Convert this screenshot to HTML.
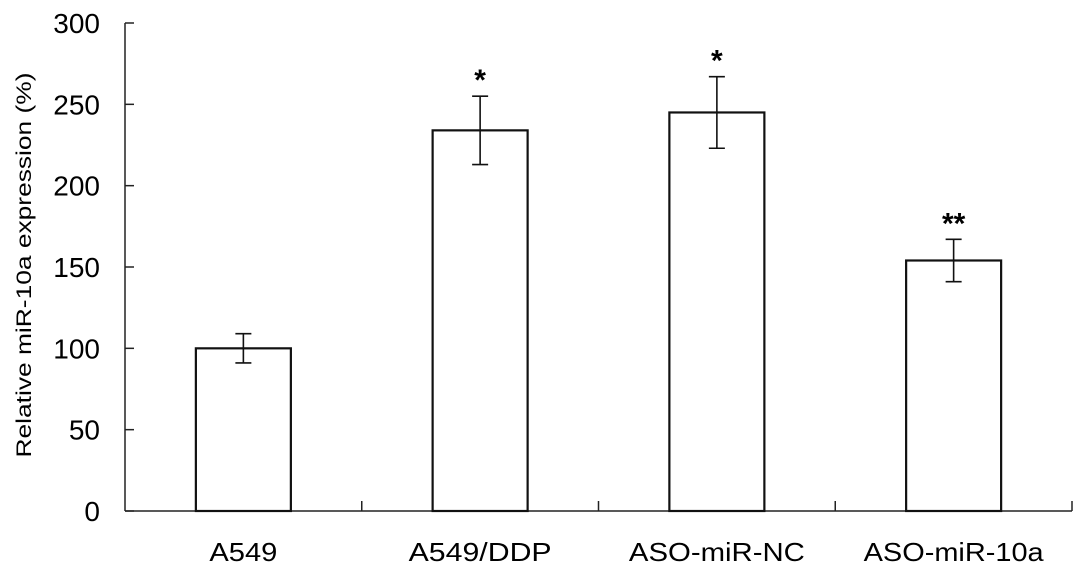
<!DOCTYPE html>
<html><head><meta charset="utf-8"><style>
html,body{margin:0;padding:0;background:#fff;}
svg{display:block;font-family:"Liberation Sans",Arial,sans-serif;}
</style></head><body>
<svg id="chart" width="1087" height="581" viewBox="0 0 1087 581"></svg>
<script>
const categories=["A549","A549/DDP","ASO-miR-NC","ASO-miR-10a"];
const values=[100,234,245,154];
const errors=[9,21,22,13];
const marks=["","*","*","**"];
const yTicks=[0,50,100,150,200,250,300];
const NS="http://www.w3.org/2000/svg";
const svg=document.getElementById('chart');
const x0=125,x1=1072,yTop=23,yBot=511,yMax=300;
const bandW=(x1-x0)/categories.length;
const barW=95;
const labelW=[68,143,176,180];
function yS(v){return yBot-(v/yMax)*(yBot-yTop);}
function xC(i){return x0+bandW*(i+0.5);}
function mk(tag,attrs,parent){const e=document.createElementNS(NS,tag);for(const k in attrs)e.setAttribute(k,attrs[k]);(parent||svg).appendChild(e);return e;}
const yAxis=mk('line',{x1:x0,y1:yTop,x2:x0,y2:yBot,stroke:'#222','stroke-width':1.5});


const xAxis=mk('line',{x1:x0,y1:yBot,x2:x1,y2:yBot,stroke:'#222','stroke-width':1.5});


yTicks.forEach(t=>{
  const y=yS(t);
  const tk=mk('line',{x1:x0,y1:y,x2:x0+9,y2:y,stroke:'#222','stroke-width':1.5});
  
  
  const lb=mk('text',{x:x0-25,y:y+10,'text-anchor':'end','font-size':28});
  lb.textContent=t;
  
  
});
for(let i=1;i<=categories.length;i++){
  const x=x0+bandW*i;
  const tk=mk('line',{x1:x,y1:yBot,x2:x,y2:yBot-10,stroke:'#222','stroke-width':1.5});
  
  
}
categories.forEach((c,i)=>{
  const cx=xC(i),v=values[i],e=errors[i];
  const r=mk('rect',{x:cx-barW/2,y:yS(v),width:barW,height:yBot-yS(v),fill:'#fff',stroke:'#111','stroke-width':2.2});
  
  
  const g=mk('g',{stroke:'#111','stroke-width':1.6});
  
  
  mk('line',{x1:cx,y1:yS(v+e),x2:cx,y2:yS(v-e)},g);
  mk('line',{x1:cx-8,y1:yS(v+e),x2:cx+8,y2:yS(v+e)},g);
  mk('line',{x1:cx-8,y1:yS(v-e),x2:cx+8,y2:yS(v-e)},g);
  if(marks[i]){
    const s=mk('text',{x:cx,y:yS(v+e)-6,'text-anchor':'middle','font-size':30,'font-weight':'bold'});
    s.textContent=marks[i];
    
    
  }
  const lb=mk('text',{x:cx,y:561,'text-anchor':'middle','font-size':26,textLength:labelW[i],lengthAdjust:'spacingAndGlyphs'});
  lb.textContent=c;
  
  
});
const yt=mk('text',{x:0,y:0,'text-anchor':'middle','font-size':21,textLength:385,lengthAdjust:'spacingAndGlyphs',transform:'translate(31,265) rotate(-90)'});
yt.textContent='Relative miR-10a expression (%)';


</script>
</body></html>
